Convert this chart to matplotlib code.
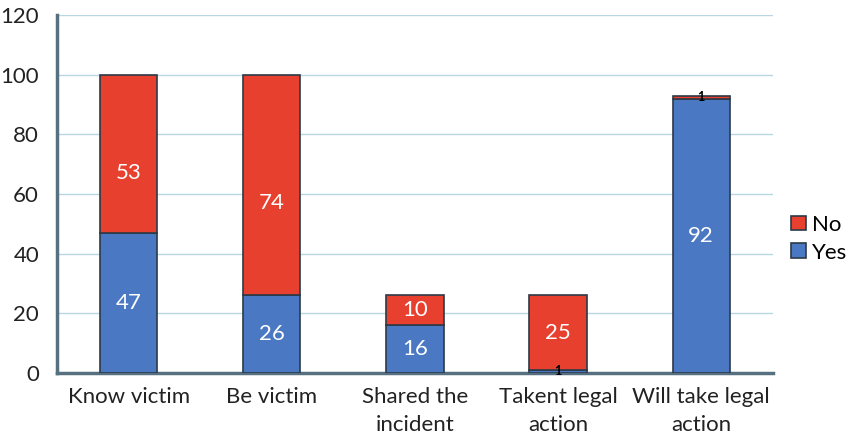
import matplotlib
matplotlib.use("Agg")
import matplotlib.pyplot as plt
import numpy as np

plt.rcParams['font.family'] = ['Lato', 'DejaVu Sans']

categories = ["Know victim", "Be victim", "Shared the\nincident", "Takent legal\naction", "Will take legal\naction"]
yes_values = [47, 26, 16, 1, 92]
no_values = [53, 74, 10, 25, 1]
y_ticks = [0, 20, 40, 60, 80, 100, 120]

# vertical nudge of the "No" value labels (data units)
no_label_shift = [-6.5, -6, 0, 0, 0]

red = "#E8402F"
blue = "#4A78C2"
edge = "#2B3A48"

fig = plt.figure(figsize=(8.52, 4.34), dpi=100)
ax = fig.add_axes([0.067, 0.1406, 0.84, 0.8248])

x = np.arange(len(categories))
w = 0.4
bars_yes = ax.bar(x, yes_values, width=w, color=blue, edgecolor=edge, linewidth=1.2, label="Yes", zorder=3)
bars_no = ax.bar(x, no_values, width=w, bottom=yes_values, color=red, edgecolor=edge, linewidth=1.2, label="No", zorder=3)

for i in range(len(categories)):
    segs = ((yes_values[i], 0, 0), (no_values[i], yes_values[i], no_label_shift[i]))
    for val, base, shift in segs:
        cy = base + val / 2 + shift
        if val >= 5:
            ax.text(x[i], cy, str(val), ha="center", va="center", color="white", fontsize=16, zorder=4)
        else:
            ax.text(x[i], cy, str(val), ha="center", va="center", color="black", fontsize=9,
                    fontweight="bold", zorder=4)

ax.set_xlim(-0.5, len(categories) - 0.5)
ax.set_ylim(0, 120)
ax.set_yticks(y_ticks)
ax.set_yticklabels([str(t) for t in y_ticks], fontsize=16, color="#222222")
ax.set_xticks(x)
ax.set_xticklabels(categories, fontsize=16, color="#222222", linespacing=1.5)
ax.tick_params(axis="both", length=0)
ax.tick_params(axis="x", pad=10)
ax.tick_params(axis="y", pad=13)

ax.grid(axis="y", color="#B9D6E3", linewidth=1.0, zorder=0)
for s in ("top", "right"):
    ax.spines[s].set_visible(False)
ax.spines["left"].set_color("#56707F")
ax.spines["left"].set_linewidth(2.5)
ax.spines["bottom"].set_color("#56707F")
ax.spines["bottom"].set_linewidth(2.5)

handles = [bars_no, bars_yes]
leg = fig.legend(handles, ["No", "Yes"], loc="center left", bbox_to_anchor=(0.905, 0.45),
                 frameon=False, fontsize=16, handlelength=0.65, handleheight=0.65,
                 handletextpad=0.3, labelspacing=0.35)

fig.savefig("out.png", dpi=100)
